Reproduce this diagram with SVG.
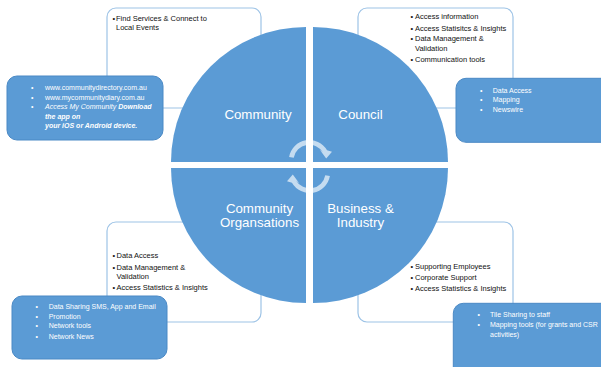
<svg xmlns="http://www.w3.org/2000/svg" width="601" height="367" viewBox="0 0 601 367">
  <style>
    .quad { fill: #5b9bd5; }
    .outline { fill: #ffffff; stroke: #9dc3e6; stroke-width: 1.2; }
    .panel { fill: #5b9bd5; stroke: #4a89c5; stroke-width: 1; }
    .qlabel { font-family: "Liberation Sans", Arial, sans-serif; font-size: 13.3px; fill: #ffffff; text-anchor: middle; }
    .item { font-family: "Liberation Sans", Arial, sans-serif; font-size: 7.5px; fill: #111111; }
    .pitem { font-family: "Liberation Sans", Arial, sans-serif; font-size: 7px; fill: #ffffff; }
    .bi { font-style: italic; font-weight: bold; }
    .it { font-style: italic; }
    .cycle { fill: #ffffff; fill-opacity: 0.65; }
  </style>
  <defs>
    <!-- curved arrow: thick arc band ending in a downward arrowhead -->
    <path id="curved-arrow" d="M289.11,156.94 A20.5,20.5 0 0 1 327.05,150.25 L332,151.8 L326.2,158.6 L319.6,149.6 L322.98,152.6 A15.8,15.8 0 0 0 293.74,157.76 Z"/>
  </defs>

  <!-- white detail boxes behind the circle -->
  <g id="community-details">
    <rect class="outline" x="107" y="8" width="154" height="100" rx="9"/>
    <text class="item" x="112.5" y="20.7">•</text>
    <text class="item" x="116" y="20.7">Find Services &amp; Connect to</text>
    <text class="item" x="116" y="30">Local Events</text>
  </g>
  <g id="council-details">
    <rect class="outline" x="358" y="8" width="155" height="100" rx="9"/>
    <text class="item" x="410.5" y="19.3">•</text>
    <text class="item" x="415" y="19.3">Access information</text>
    <text class="item" x="410.5" y="30.7">•</text>
    <text class="item" x="415" y="30.7">Access Statisitcs &amp; Insights</text>
    <text class="item" x="410.5" y="41.3">•</text>
    <text class="item" x="415" y="41.3">Data Management &amp;</text>
    <text class="item" x="415" y="50.7">Validation</text>
    <text class="item" x="410.5" y="62">•</text>
    <text class="item" x="415" y="62">Communication tools</text>
  </g>
  <g id="community-org-details">
    <rect class="outline" x="107" y="222" width="154" height="100" rx="9"/>
    <text class="item" x="112.5" y="258.3">•</text>
    <text class="item" x="116.5" y="258.3">Data Access</text>
    <text class="item" x="112.5" y="269.7">•</text>
    <text class="item" x="116.5" y="269.7">Data Management &amp;</text>
    <text class="item" x="116.5" y="279">Validation</text>
    <text class="item" x="112.5" y="290">•</text>
    <text class="item" x="116.5" y="290">Access Statistics &amp; Insights</text>
  </g>
  <g id="business-details">
    <rect class="outline" x="358" y="222" width="155" height="100" rx="9"/>
    <text class="item" x="410.5" y="269.3">•</text>
    <text class="item" x="415" y="269.3">Supporting Employees</text>
    <text class="item" x="410.5" y="280.3">•</text>
    <text class="item" x="415" y="280.3">Corporate Support</text>
    <text class="item" x="410.5" y="291">•</text>
    <text class="item" x="415" y="291">Access Statistics &amp; Insights</text>
  </g>

  <!-- four quadrants of the central circle -->
  <g id="community">
    <path class="quad" d="M306,162 L171,162 A135,135 0 0 1 306,27 Z"/>
    <text class="qlabel" x="258" y="118.5">Community</text>
  </g>
  <g id="council">
    <path class="quad" d="M313,162 L313,27 A135,135 0 0 1 448,162 Z"/>
    <text class="qlabel" x="360.5" y="118.5">Council</text>
  </g>
  <g id="community-organisations">
    <path class="quad" d="M306,168 L306,303 A135,135 0 0 1 171,168 Z"/>
    <text class="qlabel" x="259.5" y="212.5">Community</text>
    <text class="qlabel" x="259.5" y="227">Organsations</text>
  </g>
  <g id="business-industry">
    <path class="quad" d="M313,168 L448,168 A135,135 0 0 1 313,303 Z"/>
    <text class="qlabel" x="360.5" y="212.5">Business &amp;</text>
    <text class="qlabel" x="360.5" y="227">Industry</text>
  </g>

  <!-- blue resource panels -->
  <g id="community-resources">
    <rect class="panel" x="7" y="76" width="156" height="64" rx="10"/>
    <text class="pitem" x="31" y="90">•</text>
    <text class="pitem" x="45" y="90">www.communitydirectory.com.au</text>
    <text class="pitem" x="31" y="99.5">•</text>
    <text class="pitem" x="45" y="99.5">www.mycommunitydiary.com.au</text>
    <text class="pitem" x="31" y="109.3">•</text>
    <text class="pitem" x="45" y="109.3"><tspan class="it">Access My Community </tspan><tspan class="bi">Download</tspan></text>
    <text class="pitem bi" x="45" y="118.5">the app on</text>
    <text class="pitem bi" x="45" y="128.3">your iOS or Android device.</text>
  </g>
  <g id="council-resources">
    <rect class="panel" x="456" y="78.3" width="160" height="64" rx="10"/>
    <text class="pitem" x="480" y="92.5">•</text>
    <text class="pitem" x="492.7" y="92.5">Data Access</text>
    <text class="pitem" x="480" y="101.8">•</text>
    <text class="pitem" x="492.7" y="101.8">Mapping</text>
    <text class="pitem" x="480" y="111.5">•</text>
    <text class="pitem" x="492.7" y="111.5">Newswire</text>
  </g>
  <g id="community-org-resources">
    <rect class="panel" x="12" y="296" width="155" height="63" rx="10"/>
    <text class="pitem" x="35.5" y="309.3">•</text>
    <text class="pitem" x="48.7" y="309.3">Data Sharing SMS, App and Email</text>
    <text class="pitem" x="35.5" y="318.7">•</text>
    <text class="pitem" x="48.7" y="318.7">Promotion</text>
    <text class="pitem" x="35.5" y="328.3">•</text>
    <text class="pitem" x="48.7" y="328.3">Network tools</text>
    <text class="pitem" x="35.5" y="338.7">•</text>
    <text class="pitem" x="48.7" y="338.7">Network News</text>
  </g>
  <g id="business-resources">
    <rect class="panel" x="453.3" y="303.3" width="165" height="75" rx="10"/>
    <text class="pitem" x="477.5" y="316.8">•</text>
    <text class="pitem" x="490" y="316.8">Tile Sharing to staff</text>
    <text class="pitem" x="477.5" y="326.7">•</text>
    <text class="pitem" x="490" y="326.7">Mapping tools (for grants and CSR</text>
    <text class="pitem" x="490" y="336.5">activities)</text>
  </g>

  <!-- cycle arrows at the centre -->
  <g id="connectors">
    <use href="#curved-arrow" class="cycle"/>
    <use href="#curved-arrow" class="cycle" transform="rotate(180 309.5 166.5)"/>
  </g>
</svg>
